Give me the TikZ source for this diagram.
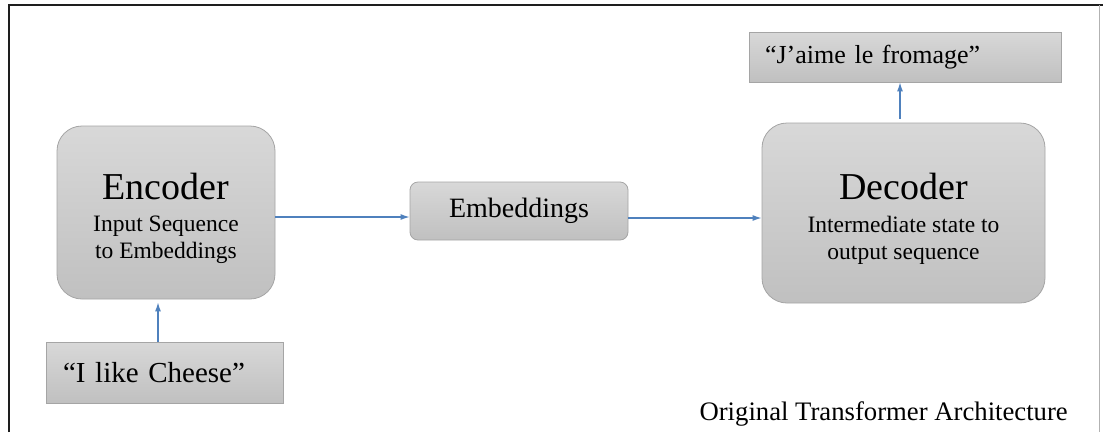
\documentclass[tikz,border=0pt]{standalone}
\usepackage{fontspec}
\setmainfont{Liberation Serif}
\usetikzlibrary{arrows.meta}
\definecolor{boxtop}{RGB}{216,216,216}
\definecolor{boxbot}{RGB}{192,192,192}
\definecolor{boxedge}{RGB}{165,165,165}
\definecolor{arrblue}{RGB}{79,129,189}
\definecolor{frameline}{RGB}{30,30,30}
\tikzset{
  gbox/.style={draw=boxedge, line width=0.8pt, top color=boxtop, bottom color=boxbot, inner sep=0pt},
  roundbox/.style={gbox, rounded corners=#1},
  arr/.style={draw=arrblue, line width=1.2pt, -{Latex[length=9pt,width=6pt]}},
  bigtxt/.style={anchor=base, inner sep=0pt, font=\fontsize{38}{42}\selectfont},
  subtxt/.style={anchor=base, inner sep=0pt, font=\fontsize{23.5}{27}\selectfont},
}
\begin{document}
\begin{tikzpicture}[x=1pt,y=-1pt]
\useasboundingbox (0,0) rectangle (1106,432);
\fill[white] (0,0) rectangle (1106,432);
% frame
\coordinate (ftl) at (9,5);
\coordinate (ftr) at (1103,5);
\coordinate (fbl) at (9,432);
\coordinate (frt) at (1099,5);
\coordinate (frb) at (1099,432);
\draw[frameline, line width=2.5pt] (fbl) -- (ftl) -- (ftr);
\draw[gray!60, line width=1pt] (frt) -- (frb);

% encoder
\node[roundbox=25pt, minimum width=218pt, minimum height=173pt] (enc) at (166,212.5) {};
\node[bigtxt] (enct) at ([yshift=13pt]enc.center) {Encoder};
\node[subtxt] (encs1) at ([yshift=-18.5pt]enc.center) {Input Sequence};
\node[subtxt] (encs2) at ([yshift=-45.5pt]enc.center) {to Embeddings};
% input
\node[gbox, minimum width=237pt, minimum height=61pt, text width=203pt, inner xsep=17pt, align=left,
      font=\fontsize{29}{33}\selectfont] (inp) at (164.5,372.5) {“I like Cheese”};
% embeddings
\node[roundbox=8pt, minimum width=218pt, minimum height=58pt, font=\fontsize{28}{32}\selectfont] (emb) at (519,211) {Embeddings};
% decoder
\node[roundbox=25pt, minimum width=283pt, minimum height=180pt] (dec) at (903.5,213) {};
\node[bigtxt] (dect) at ([yshift=13.5pt]dec.center) {Decoder};
\node[subtxt] (decs1) at ([yshift=-19pt]dec.center) {Intermediate state to};
\node[subtxt] (decs2) at ([yshift=-46.5pt]dec.center) {output sequence};
% output
\node[gbox, minimum width=312pt, minimum height=50pt, text width=280pt, inner xsep=16pt, align=left,
      font=\fontsize{26}{30}\selectfont] (out) at (905,57) {“J’aime le fromage”};
% caption
\node[anchor=base east, inner sep=0pt, font=\fontsize{26.7}{30}\selectfont] (cap) at (1068,420) {Original Transformer Architecture};

% connectors
\draw[arr, shorten >=3pt] ([xshift=-6.5pt]inp.north) -- ([xshift=-8pt]enc.south);
\draw[arr] ([yshift=-4.5pt]enc.east) -- ([yshift=-4.5pt]enc.east -| emb.west);
\draw[arr] ([yshift=-7pt]emb.east) -- ([yshift=-7pt]emb.east -| dec.west);
\draw[arr] ([xshift=-3.5pt,yshift=4pt]dec.north) -- ([xshift=-3.5pt]dec.north |- out.south);
\end{tikzpicture}
\end{document}
